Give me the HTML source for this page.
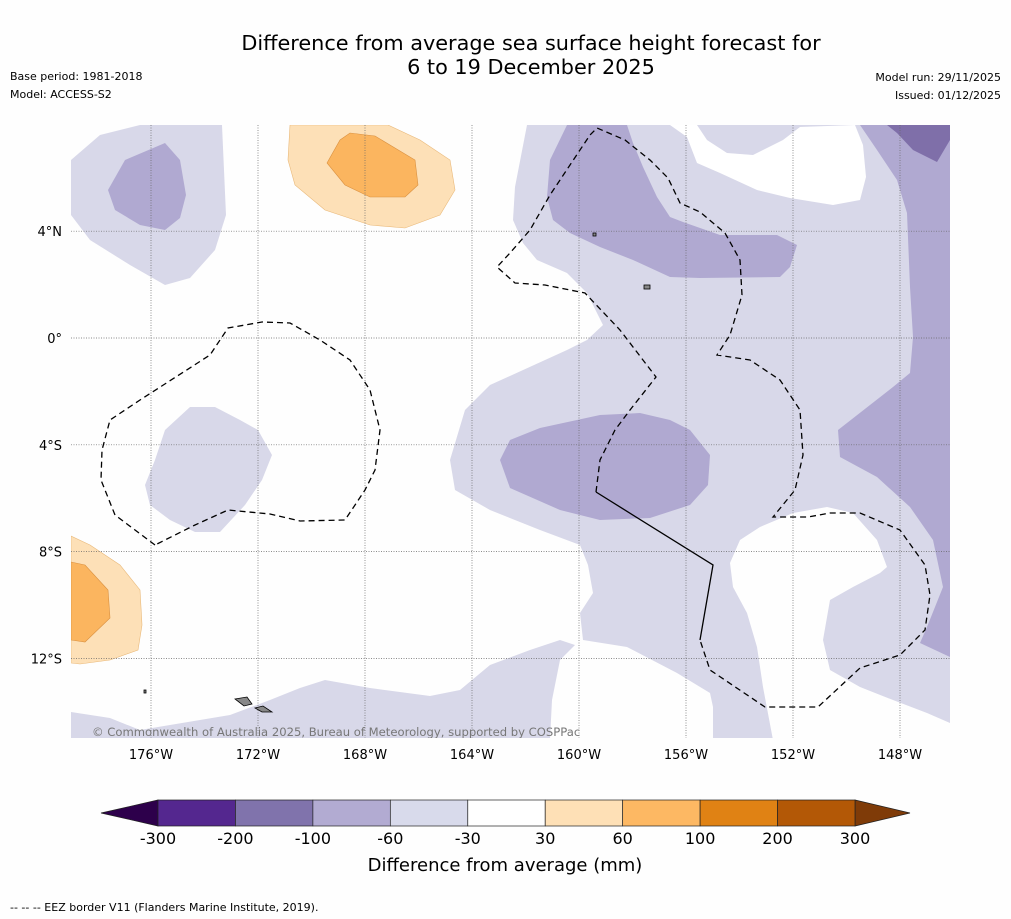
<!DOCTYPE html>
<html><head><meta charset="utf-8"><style>
body{margin:0;background:#fff;}
svg{display:block;font-family:"DejaVu Sans",sans-serif;}
</style></head><body>
<svg id="chart" width="1011" height="919" viewBox="0 0 1011 919" xmlns="http://www.w3.org/2000/svg">
<rect width="1011" height="919" fill="#fefefe"/>
<text x="531" y="50" font-size="20.8" text-anchor="middle">Difference from average sea surface height forecast for</text>
<text x="531" y="74" font-size="20.8" text-anchor="middle">6 to 19 December 2025</text>
<text x="10" y="80" font-size="11">Base period: 1981-2018</text>
<text x="10" y="98" font-size="11">Model: ACCESS-S2</text>
<text x="1001" y="81" font-size="11" text-anchor="end">Model run: 29/11/2025</text>
<text x="1001" y="99" font-size="11" text-anchor="end">Issued: 01/12/2025</text>
<defs><clipPath id="mc"><rect x="71" y="125" width="879" height="613"/></clipPath></defs>
<g clip-path="url(#mc)">
<g fill="#d8d8e9">
<polygon points="71,160 100,135 140,125 222,125 226,215 215,250 190,278 165,285 130,265 90,240 71,215"/>
<polygon points="527,125 950,125 950,723 927,713 893,700 860,687 830,670 823,640 830,600 853,587 880,573 887,567 877,540 853,513 827,507 793,513 760,527 740,540 730,563 733,587 747,613 757,647 763,687 773,740 713,740 713,707 710,693 677,673 627,647 583,640 580,613 593,593 588,565 580,545 540,530 490,510 455,490 450,460 465,410 490,385 567,350 587,340 603,325 587,293 567,273 537,260 523,243 513,220 515,187"/>
<polygon points="145,485 155,460 165,430 190,407 215,407 240,420 258,430 272,455 262,480 245,505 220,532 195,532 170,520 150,505"/>
<polygon points="71,712 110,718 140,730 170,725 230,715 270,700 300,688 325,680 370,688 430,696 460,690 490,665 530,650 560,640 575,645 560,660 552,700 550,740 71,740"/>
</g>
<polygon fill="#ffffff" points="670,125 697,125 707,140 727,153 753,155 783,140 800,127 855,125 863,145 866,177 860,200 833,205 790,198 757,190 720,173 697,163 687,137"/>
<g fill="#b0a9d1">
<polygon points="108,190 125,160 165,143 180,160 186,195 180,218 165,230 140,225 115,210"/>
<polygon points="567,125 627,125 633,143 643,167 657,197 670,217 683,222 720,235 777,235 797,245 790,267 780,277 700,278 670,277 633,260 600,247 570,233 553,220 547,197 550,160"/>
<polygon points="500,460 510,440 540,428 600,415 640,413 670,420 690,430 710,455 708,485 690,505 650,518 600,520 560,510 510,488"/>
<polygon points="860,125 950,125 950,657 920,643 927,627 943,587 933,540 910,507 877,477 840,457 838,430 893,387 910,373 913,337 910,287 907,213 897,180 877,150"/>
</g>
<polygon fill="#7f6fa9" points="887,125 950,125 950,140 937,162 913,150 897,133"/>
<g fill="#fde0b7" stroke="#e9b97a" stroke-width="0.6">
<polygon points="290,125 388,125 420,140 450,160 455,190 440,215 405,228 370,225 325,210 295,185 288,160"/>
<polygon points="71,536 90,545 120,565 140,590 142,625 138,650 110,660 80,664 71,663"/>
</g>
<g fill="#fbb55f" stroke="#d99040" stroke-width="0.6">
<polygon points="327,163 340,140 350,133 375,136 415,160 418,185 405,197 370,197 345,185"/>
<polygon points="71,562 85,565 108,590 110,618 85,642 71,640"/>
</g>
<g id="grid" stroke="#666" stroke-width="0.7" stroke-dasharray="1,1.5"></g>
<g fill="none" stroke="#000" stroke-width="1.3">
<polyline stroke-dasharray="6,4" points="155,545 115,515 101,480 102,450 110,420 140,400 210,355 228,328 262,322 290,323 320,340 350,360 370,390 380,430 375,470 365,490 345,520 300,521 270,514 228,510 195,525 155,545"/>
<polyline stroke-dasharray="6,4" points="596,492 600,460 615,430 630,410 656,377 620,330 585,293 545,285 515,283 497,267 510,253 530,230 550,195 570,165 590,135 597,128 625,140 650,160 668,178 680,203 700,212 725,233 740,260 742,295 730,335 717,355 750,360 780,380 800,410 803,455 795,490 773,517 808,517 830,513 860,513 900,530 925,565 930,595 925,630 900,655 860,668 818,707 765,707 710,670 700,640"/>
<polyline points="596,492 713,565 700,640"/>
</g>
<g fill="#888" stroke="#000" stroke-width="0.8">
<polygon points="235,699 247,697 252,704 244,706"/>
<polygon points="255,708 263,706 272,712 262,712"/>
<rect x="144" y="690" width="2" height="3"/><rect x="644" y="285" width="6" height="4"/><rect x="593" y="233" width="3" height="3"/>
</g>
<text x="92" y="736" font-size="11.6" fill="#777">© Commonwealth of Australia 2025, Bureau of Meteorology, supported by COSPPac</text>
</g>
<g id="axes" font-size="13"></g>
<g id="cbar"></g>
<text x="505" y="871" font-size="18" text-anchor="middle">Difference from average (mm)</text>
<text x="10" y="911" font-size="11">--  --  -- EEZ border V11 (Flanders Marine Institute, 2019).</text>
</svg>
<script>
const lonTicks = [-176,-172,-168,-164,-160,-156,-152,-148];
const latTicks = [4,0,-4,-8,-12];
const cbBounds = [-300,-200,-100,-60,-30,30,60,100,200,300];
const cbColors = ['#54278f','#8073ac','#b2abd2','#d8daeb','#ffffff','#fee0b6','#fdb863','#e08214','#b35806'];
const cbExtLow = '#2d004b', cbExtHigh = '#7f3b08';
const NS='http://www.w3.org/2000/svg';
const X = lon => 151 + (lon + 176) * 26.75;
const Y = lat => 338 - lat * 26.7;
function mk(tag, attrs, parent){const e=document.createElementNS(NS,tag);for(const k in attrs)e.setAttribute(k,attrs[k]);parent.appendChild(e);return e;}
const grid=document.getElementById('grid'), axes=document.getElementById('axes'), cbar=document.getElementById('cbar');
lonTicks.forEach(l=>{
  const g=mk('line',{x1:X(l),x2:X(l),y1:125,y2:738},grid);
  
  
  const t=mk('text',{x:X(l),y:759,'text-anchor':'middle'},axes);
  t.textContent=Math.abs(l)+'°W';
  
  
});
latTicks.forEach(l=>{
  const g=mk('line',{x1:71,x2:950,y1:Y(l),y2:Y(l)},grid);
  
  
  const t=mk('text',{x:62,y:Y(l)+5,'text-anchor':'end'},axes);
  t.textContent=l===0?'0°':Math.abs(l)+'°'+(l>0?'N':'S');
  
  
});
const cx0=158, cx1=855, cy=800, ch=26, n=cbColors.length, sw=(cx1-cx0)/n;
const CX = i => cx0 + i*sw;
const lo=mk('polygon',{points:`${CX(0)},${cy} ${CX(0)},${cy+ch} 101,${cy+ch/2}`,fill:cbExtLow,stroke:'#222','stroke-width':0.7},cbar);


const hi=mk('polygon',{points:`${CX(n)},${cy} ${CX(n)},${cy+ch} 910,${cy+ch/2}`,fill:cbExtHigh,stroke:'#222','stroke-width':0.7},cbar);


cbColors.forEach((c,i)=>{
  const r=mk('rect',{x:CX(i),y:cy,width:sw,height:ch,fill:c,stroke:'#222','stroke-width':0.7},cbar);
  
  
});
cbBounds.forEach((b,i)=>{
  const t=mk('text',{x:CX(i),y:844,'text-anchor':'middle','font-size':16},cbar);
  t.textContent=b;
  
  
});
</script>
</body></html>
